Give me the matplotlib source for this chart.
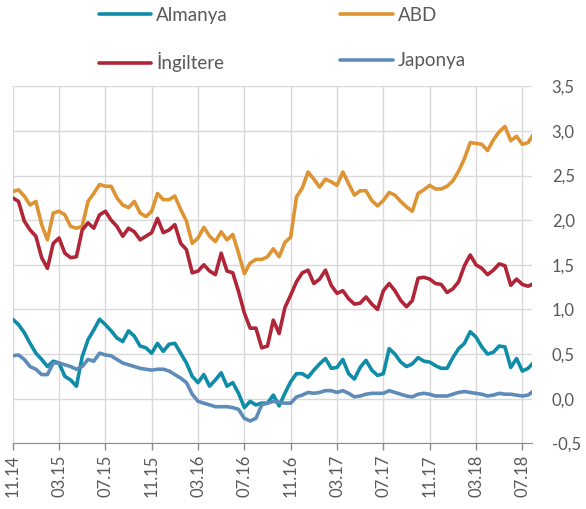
import matplotlib
matplotlib.use("Agg")
import matplotlib.pyplot as plt
import numpy as np

plt.rcParams["font.family"] = ["Lato", "DejaVu Sans"]

# 10 year bond yields (%), sampled every half month starting 11.14
almanya = [0.89, 0.83, 0.74, 0.62, 0.51, 0.44, 0.36, 0.42, 0.40, 0.25,
           0.21, 0.14, 0.47, 0.66, 0.77, 0.89, 0.83, 0.76, 0.68, 0.64,
           0.76, 0.70, 0.59, 0.57, 0.51, 0.62, 0.53, 0.61, 0.62, 0.51,
           0.40, 0.25, 0.18, 0.27, 0.14, 0.21, 0.29, 0.14, 0.18, 0.06,
           -0.10, -0.03, -0.07, -0.05, -0.05, 0.04, -0.08, 0.06, 0.19, 0.28,
           0.28, 0.24, 0.32, 0.39, 0.45, 0.34, 0.35, 0.44, 0.28, 0.22,
           0.35, 0.43, 0.32, 0.26, 0.28, 0.56, 0.50, 0.41, 0.36, 0.39,
           0.46, 0.42, 0.41, 0.37, 0.34, 0.34, 0.46, 0.56, 0.62, 0.75,
           0.69, 0.58, 0.50, 0.52, 0.59, 0.58, 0.35, 0.45, 0.31, 0.34,
           0.41]
abd = [2.32, 2.34, 2.27, 2.17, 2.21, 1.95, 1.78, 2.08, 2.10, 2.06,
       1.93, 1.91, 1.93, 2.21, 2.30, 2.40, 2.38, 2.38, 2.25, 2.17,
       2.14, 2.21, 2.08, 2.04, 2.10, 2.30, 2.23, 2.23, 2.27, 2.12,
       1.99, 1.74, 1.80, 1.92, 1.82, 1.76, 1.87, 1.78, 1.84, 1.63,
       1.40, 1.52, 1.56, 1.56, 1.59, 1.68, 1.59, 1.75, 1.81, 2.26,
       2.36, 2.54, 2.46, 2.37, 2.46, 2.43, 2.39, 2.54, 2.41, 2.28,
       2.33, 2.33, 2.22, 2.16, 2.22, 2.31, 2.28, 2.21, 2.15, 2.10,
       2.30, 2.34, 2.39, 2.35, 2.35, 2.38, 2.44, 2.55, 2.69, 2.87,
       2.86, 2.85, 2.78, 2.90, 2.99, 3.05, 2.89, 2.94, 2.85, 2.87,
       2.97]
ingiltere = [2.25, 2.21, 1.99, 1.89, 1.82, 1.58, 1.46, 1.74, 1.80, 1.63,
             1.58, 1.59, 1.89, 1.97, 1.91, 2.06, 2.10, 2.00, 1.93, 1.82,
             1.91, 1.87, 1.78, 1.82, 1.86, 2.02, 1.86, 1.89, 1.95, 1.74,
             1.67, 1.41, 1.43, 1.50, 1.43, 1.39, 1.63, 1.43, 1.41, 1.20,
             0.96, 0.79, 0.79, 0.57, 0.59, 0.88, 0.73, 1.02, 1.16, 1.31,
             1.41, 1.44, 1.29, 1.34, 1.44, 1.27, 1.18, 1.21, 1.12, 1.06,
             1.07, 1.14, 1.06, 1.00, 1.21, 1.29, 1.21, 1.10, 1.03, 1.10,
             1.35, 1.36, 1.34, 1.29, 1.28, 1.19, 1.23, 1.31, 1.49, 1.61,
             1.50, 1.46, 1.39, 1.44, 1.51, 1.49, 1.27, 1.34, 1.28, 1.26,
             1.29]
japonya = [0.48, 0.49, 0.44, 0.36, 0.33, 0.27, 0.27, 0.40, 0.40, 0.38,
           0.36, 0.33, 0.36, 0.44, 0.42, 0.51, 0.49, 0.48, 0.44, 0.40,
           0.38, 0.36, 0.34, 0.33, 0.32, 0.33, 0.33, 0.31, 0.27, 0.23,
           0.18, 0.05, -0.03, -0.05, -0.07, -0.09, -0.09, -0.09, -0.10, -0.12,
           -0.22, -0.25, -0.22, -0.07, -0.05, -0.03, -0.04, -0.05, -0.05, 0.02,
           0.04, 0.07, 0.06, 0.07, 0.09, 0.09, 0.07, 0.09, 0.06, 0.02,
           0.03, 0.05, 0.06, 0.06, 0.06, 0.09, 0.07, 0.05, 0.03, 0.02,
           0.05, 0.06, 0.05, 0.03, 0.03, 0.03, 0.05, 0.07, 0.08, 0.07,
           0.06, 0.05, 0.03, 0.04, 0.06, 0.05, 0.05, 0.04, 0.03, 0.04,
           0.09]
tick_labels = ["11.14", "03.15", "07.15", "11.15", "03.16", "07.16",
               "11.16", "03.17", "07.17", "11.17", "03.18", "07.18"]

text_color = "#595959"
grid_color = "#d9d9d9"

fig = plt.figure(figsize=(5.86, 5.09), dpi=100)
ax = fig.add_axes([12.7 / 586, 1 - 443.3 / 509, 519.6 / 586, 357.0 / 509])

months = np.arange(len(abd)) / 2  # half month steps
series = [
    ("Almanya", almanya, "#0E8CA8"),
    ("ABD", abd, "#DF9434"),
    ("İngiltere", ingiltere, "#B02537"),
    ("Japonya", japonya, "#5E8CB9"),
]
lines = {}
for name, vals, color in series:
    (ln,) = ax.plot(months, vals, color=color, lw=2.6, label=name,
                    solid_joinstyle="round", solid_capstyle="round")
    lines[name] = ln

ax.set_xlim(0, 44.86)
ax.set_ylim(-0.5, 3.5)

ax.set_xticks(np.arange(0, 45, 4))
ax.set_xticklabels(tick_labels, rotation=90)
yt = np.arange(-0.5, 3.51, 0.5)
ax.set_yticks(yt)
ax.set_yticklabels([f"{v:.1f}".replace(".", ",") for v in yt])
ax.yaxis.tick_right()

ax.tick_params(axis="y", length=0, pad=14, labelsize=12, labelcolor=text_color)
ax.tick_params(axis="x", length=5, width=1, color="#8c8c8c", pad=3,
               labelsize=12, labelcolor=text_color)

for side in ["top", "left", "right"]:
    ax.spines[side].set_visible(False)
ax.spines["bottom"].set_color("#8c8c8c")
ax.grid(True, color=grid_color, lw=1)
ax.set_axisbelow(True)

order = ["Almanya", "İngiltere", "ABD", "Japonya"]
fig.legend([lines[n] for n in order], order, ncol=2, loc="upper left",
           bbox_to_anchor=(99 / 586, 1 - 7 / 509), frameon=False,
           fontsize=13.5, labelcolor=text_color, handlelength=2.8,
           handletextpad=0.25, columnspacing=6.0, labelspacing=1.5,
           borderpad=0, borderaxespad=0)

fig.savefig("out.png", dpi=100)
